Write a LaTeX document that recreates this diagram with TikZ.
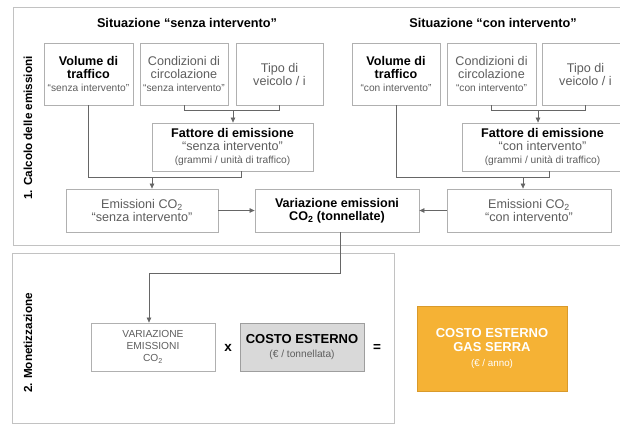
\documentclass[tikz,border=0pt]{standalone}
\usepackage{fontspec}
\setmainfont{Liberation Sans}
\usetikzlibrary{arrows.meta}
\definecolor{boxline}{HTML}{B0B0B0}
\definecolor{frameline}{HTML}{C2C2C2}
\definecolor{connline}{HTML}{666666}
\definecolor{txtgray}{HTML}{5E5E5E}
\definecolor{costogray}{HTML}{D9D9D9}
\definecolor{orangefill}{HTML}{F5B235}
\definecolor{orangeline}{HTML}{D99A2B}
\newcommand\boldtxt[1]{{\color{black}\bfseries #1}}
\newcommand\smalltxt[1]{{\fontsize{10.2}{11.2}\selectfont #1}}
\newcommand\COtwo{CO\textsubscript{2}}
\begin{document}
\begin{tikzpicture}[x=1pt,y=-1pt,
  box/.style={draw=boxline, line width=0.8pt, fill=white, align=center, inner sep=0pt,
    text=txtgray, font=\fontsize{12.6}{13}\selectfont},
  frame/.style={draw=frameline, line width=1pt},
  title/.style={font=\fontsize{12.7}{13}\selectfont\bfseries, inner sep=0pt},
  sidelabel/.style={font=\fontsize{11.7}{12}\selectfont\bfseries, rotate=90, inner sep=0pt},
  conn/.style={draw=connline, line width=0.7pt},
  arr/.style={conn, -{Triangle[length=5pt,width=4.5pt]}}
]
\useasboundingbox (0,0) rectangle (620,424);
\clip (0,0) rectangle (620,424);

% frames
\draw[frame] (13,7) rectangle (630,245);
\draw[frame] (12,253) rectangle (394,423);

% titles
\node[title] (t1) at (187,23) {Situazione “senza intervento”};
\node[title] (t2) at (493,23) {Situazione “con intervento”};
\node[sidelabel] (s1) at (28,128) {1. Calcolo delle emissioni};
\node[sidelabel] (s2) at (28,343) {2. Monetizzazione};

% left group
\node[box, minimum width=89, minimum height=62] (vol1) at (88.5,74)
  {\boldtxt{Volume di}\\\boldtxt{traffico}\\\smalltxt{“senza intervento”}};
\node[box, minimum width=88, minimum height=62] (cond1) at (184,74)
  {Condizioni di\\circolazione\\\smalltxt{“senza intervento”}};
\node[box, minimum width=87, minimum height=62] (tipo1) at (279.5,74)
  {Tipo di\\veicolo / i};
\node[box, minimum width=161, minimum height=48] (fat1) at (232.5,147)
  {\boldtxt{Fattore di emissione}\\“senza intervento”\\\smalltxt{(grammi / unità di traffico)}};
\node[box, minimum width=152, minimum height=43] (em1) at (142,210.5)
  {Emissioni \COtwo\\“senza intervento”};
\node[box, minimum width=164, minimum height=43] (var) at (337,210.5)
  {\boldtxt{Variazione emissioni}\\\boldtxt{\COtwo\ (tonnellate)}};

% right group
\node[box, minimum width=88, minimum height=62] (vol2) at (396,74)
  {\boldtxt{Volume di}\\\boldtxt{traffico}\\\smalltxt{“con intervento”}};
\node[box, minimum width=89, minimum height=62] (cond2) at (491.5,74)
  {Condizioni di\\circolazione\\\smalltxt{“con intervento”}};
\node[box, minimum width=87, minimum height=62] (tipo2) at (585.5,74)
  {Tipo di\\veicolo / i};
\node[box, minimum width=161, minimum height=48] (fat2) at (542.5,147)
  {\boldtxt{Fattore di emissione}\\“con intervento”\\\smalltxt{(grammi / unità di traffico)}};
\node[box, minimum width=164, minimum height=43] (em2) at (529,210.5)
  {Emissioni \COtwo\\“con intervento”};

% left connectors
\coordinate (b1) at (233,110);
\draw[conn] (cond1.south) -- (cond1.south |- b1) -- (tipo1.south |- b1) -- (tipo1.south);
\draw[arr] (b1) -- (b1 |- fat1.north);
\coordinate (j1) at (241,177);
\coordinate (a1) at (152,177);
\draw[conn] (vol1.south) -- (vol1.south |- j1) -- (j1) -- (j1 |- fat1.south);
\draw[arr] (a1) -- (a1 |- em1.north);

% right connectors
\coordinate (b2) at (538,110);
\draw[conn] (cond2.south) -- (cond2.south |- b2) -- (tipo2.south |- b2) -- (tipo2.south);
\draw[arr] (b2) -- (b2 |- fat2.north);
\coordinate (j2) at (549,177);
\coordinate (a2) at (523,177);
\draw[conn] (vol2.south) -- (vol2.south |- j2) -- (j2) -- (j2 |- fat2.south);
\draw[arr] (a2) -- (a2 |- em2.north);

% to variation
\draw[arr] (em1.east) -- (var.west);
\draw[arr] (em2.west) -- (var.east);

% bottom part
\node[box, minimum width=124, minimum height=48, font=\fontsize{10.2}{12}\selectfont] (varb) at (153,347)
  {VARIAZIONE\\EMISSIONI\\\COtwo};
\node[font=\fontsize{13.5}{13.5}\selectfont\bfseries, inner sep=0pt] (times) at (228,348) {x};
\node[box, fill=costogray, draw=boxline!90!black, minimum width=124, minimum height=48] (costo) at (302,347)
  {\boldtxt{\fontsize{13}{14}\selectfont COSTO ESTERNO}\\[1pt]\smalltxt{(€ / tonnellata)}};
\node[font=\fontsize{13.5}{13.5}\selectfont\bfseries, inner sep=0pt] (eq) at (377,348) {=};
\node[draw=orangeline, line width=0.8pt, fill=orangefill, text=white, align=center, inner sep=0pt,
  minimum width=150, minimum height=85, font=\fontsize{13}{14}\selectfont\bfseries] (ext) at (492,348.5)
  {COSTO ESTERNO\\GAS SERRA\\[1pt]{\mdseries\fontsize{9.8}{11}\selectfont (€ / anno)}};

\coordinate (v1) at (340,273);
\coordinate (v2) at (149,273);
\draw[arr] (v1 |- var.south) -- (v1) -- (v2) -- (v2 |- varb.north);
\end{tikzpicture}
\end{document}
